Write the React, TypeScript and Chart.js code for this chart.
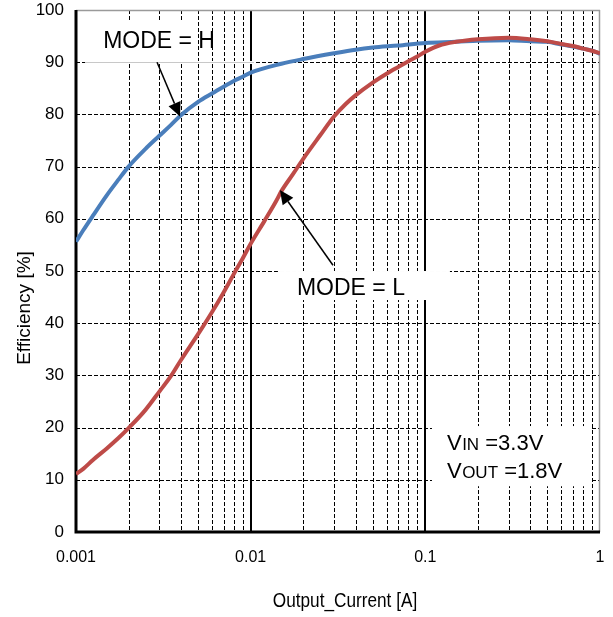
import React, { useEffect, useRef } from "react";
import { Chart, registerables } from "chart.js";

Chart.register(...registerables);

// ---- data ----
const currentH = [0.001, 0.0011, 0.00125, 0.0015, 0.00175, 0.002, 0.0025, 0.003, 0.0035, 0.004, 0.005, 0.006, 0.007, 0.008, 0.009, 0.01, 0.015, 0.02, 0.03, 0.04, 0.05, 0.07, 0.1, 0.15, 0.2, 0.3, 0.4, 0.5, 0.6, 0.7, 0.8, 0.9, 1];
const effH = [55.6, 57.8, 60.6, 64.5, 67.5, 70.0, 73.4, 75.9, 78.0, 79.9, 82.4, 84.0, 85.3, 86.4, 87.2, 88.0, 89.7, 90.6, 91.7, 92.4, 92.8, 93.2, 93.7, 93.9, 94.1, 94.2, 94.0, 93.9, 93.4, 93.0, 92.6, 92.2, 91.6];

const currentL = [0.001, 0.0011, 0.00125, 0.0015, 0.00175, 0.002, 0.0025, 0.003, 0.0035, 0.004, 0.005, 0.006, 0.007, 0.008, 0.009, 0.01, 0.012, 0.014, 0.015, 0.0175, 0.02, 0.025, 0.03, 0.035, 0.04, 0.05, 0.06, 0.07, 0.08, 0.09, 0.1, 0.12, 0.15, 0.2, 0.3, 0.4, 0.5, 0.6, 0.7, 0.8, 0.9, 1];
const effL = [11.1, 12.1, 13.8, 16.0, 18.0, 19.9, 23.4, 26.9, 29.9, 33.0, 37.9, 42.1, 45.9, 49.4, 52.4, 55.2, 59.6, 63.4, 65.3, 68.6, 71.5, 76.0, 79.6, 82.0, 83.7, 86.1, 87.8, 89.1, 90.2, 91.1, 92.0, 93.2, 93.9, 94.4, 94.7, 94.4, 94.0, 93.5, 93.1, 92.6, 92.2, 91.7];

const xTickValues = [0.001, 0.01, 0.1, 1];
const xTickLabels = ["0.001", "0.01", "0.1", "1"];
const yTickValues = [0, 10, 20, 30, 40, 50, 60, 70, 80, 90, 100];
const minorMultipliers = [2, 3, 4, 5, 6, 7, 8, 9];
const decades = [0.001, 0.01, 0.1];

const xTitle = "Output_Current [A]";
const yTitle = "Efficiency [%]";
const labelModeH = "MODE = H";
const labelModeL = "MODE = L";

// annotation anchors in data space
const modeHText = { x: 0.00143, y: 92.7 };
const modeHArrow = { x1: 0.00291, y1: 90.0, x2: 0.00394, y2: 79.6 };
const modeLText = { x: 0.0184, y: 45.4 };
const modeLArrow = { x1: 0.0296, y1: 51.1, x2: 0.0147, y2: 65.5 };
const condText = { x: 0.133, y1: 15.7, y2: 10.3 };

const FONT = "'Liberation Sans', Arial, sans-serif";

function drawArrow(ctx: CanvasRenderingContext2D, x1: number, y1: number, x2: number, y2: number) {
  const ang = Math.atan2(y2 - y1, x2 - x1);
  const headLen = 14;
  const headW = 6.5;
  const bx = x2 - headLen * Math.cos(ang);
  const by = y2 - headLen * Math.sin(ang);
  ctx.save();
  ctx.strokeStyle = "#000";
  ctx.fillStyle = "#000";
  ctx.lineWidth = 1.5;
  ctx.beginPath();
  ctx.moveTo(x1, y1);
  ctx.lineTo(bx, by);
  ctx.stroke();
  ctx.beginPath();
  ctx.moveTo(x2, y2);
  ctx.lineTo(bx + headW * Math.sin(ang), by - headW * Math.cos(ang));
  ctx.lineTo(bx - headW * Math.sin(ang), by + headW * Math.cos(ang));
  ctx.closePath();
  ctx.fill();
  ctx.restore();
}

const gridPlugin = {
  id: "customGrid",
  beforeDatasetsDraw(chart: any) {
    const { ctx, chartArea, scales } = chart;
    const { left, right, top, bottom } = chartArea;
    const xs = scales.x;
    const ys = scales.y;
    ctx.save();
    ctx.fillStyle = "#fff";
    ctx.fillRect(left, top, right - left, bottom - top);
    ctx.strokeStyle = "#000";
    ctx.lineWidth = 1;
    ctx.setLineDash([4, 2]);
    yTickValues.forEach((v) => {
      if (v <= 0 || v >= 100) return;
      const py = Math.round(ys.getPixelForValue(v)) + 0.5;
      ctx.beginPath();
      ctx.moveTo(left, py);
      ctx.lineTo(right, py);
      ctx.stroke();
    });
    decades.forEach((d) => {
      minorMultipliers.forEach((m) => {
        const px = Math.round(xs.getPixelForValue(d * m)) + 0.5;
        ctx.beginPath();
        ctx.moveTo(px, top);
        ctx.lineTo(px, bottom);
        ctx.stroke();
      });
    });
    ctx.setLineDash([]);
    ctx.lineWidth = 2;
    [0.01, 0.1].forEach((d) => {
      const px = Math.round(xs.getPixelForValue(d));
      ctx.beginPath();
      ctx.moveTo(px, top);
      ctx.lineTo(px, bottom);
      ctx.stroke();
    });
    ctx.strokeStyle = "#9a9a9a";
    ctx.lineWidth = 1.5;
    ctx.beginPath();
    ctx.moveTo(left, top + 0.5);
    ctx.lineTo(right, top + 0.5);
    ctx.moveTo(right - 0.5, top);
    ctx.lineTo(right - 0.5, bottom);
    ctx.stroke();

    // white text boxes covering grid
    ctx.fillStyle = "#fff";
    const hx = xs.getPixelForValue(modeHText.x);
    const hy = ys.getPixelForValue(modeHText.y);
    ctx.fillRect(left + 9, hy - 28, hx + 93 - (left + 9), 41);
    const y90 = Math.round(ys.getPixelForValue(90)) + 0.5;
    ctx.fillRect(left + 9, y90 - 1.5, 170, 3);
    ctx.strokeStyle = "#c8c8c8";
    ctx.lineWidth = 1;
    ctx.beginPath();
    ctx.moveTo(left + 9, y90);
    ctx.lineTo(left + 178, y90);
    ctx.stroke();

    const lx = xs.getPixelForValue(modeLText.x);
    const ly = ys.getPixelForValue(modeLText.y);
    ctx.fillRect(lx - 19, ly - 24, 172, 29);

    const cx = xs.getPixelForValue(condText.x);
    const cy1 = ys.getPixelForValue(condText.y1);
    const cy2 = ys.getPixelForValue(condText.y2);
    ctx.fillRect(cx - 15, cy1 - 24, 159, cy2 - cy1 + 32);

    ctx.strokeStyle = "#000";
    ctx.lineWidth = 3;
    ctx.beginPath();
    ctx.moveTo(left, top);
    ctx.lineTo(left, bottom);
    ctx.lineTo(right, bottom);
    ctx.stroke();
    ctx.restore();
  },
  afterDatasetsDraw(chart: any) {
    const { ctx, chartArea, scales } = chart;
    const xs = scales.x;
    const ys = scales.y;
    ctx.save();
    drawArrow(ctx,
      xs.getPixelForValue(modeHArrow.x1), ys.getPixelForValue(modeHArrow.y1),
      xs.getPixelForValue(modeHArrow.x2), ys.getPixelForValue(modeHArrow.y2));
    drawArrow(ctx,
      xs.getPixelForValue(modeLArrow.x1), ys.getPixelForValue(modeLArrow.y1),
      xs.getPixelForValue(modeLArrow.x2), ys.getPixelForValue(modeLArrow.y2));

    ctx.fillStyle = "#000";
    ctx.textBaseline = "alphabetic";
    ctx.textAlign = "left";
    ctx.font = `23px ${FONT}`;
    ctx.fillText(labelModeH, xs.getPixelForValue(modeHText.x), ys.getPixelForValue(modeHText.y));
    ctx.fillText(labelModeL, xs.getPixelForValue(modeLText.x), ys.getPixelForValue(modeLText.y));

    const cx = xs.getPixelForValue(condText.x);
    const drawCond = (sub: string, rest: string, baseY: number) => {
      let px = cx;
      ctx.font = `22px ${FONT}`;
      ctx.fillText("V", px, baseY);
      px += ctx.measureText("V").width + 0.5;
      ctx.font = `17px ${FONT}`;
      ctx.fillText(sub, px, baseY);
      px += ctx.measureText(sub).width;
      ctx.font = `22px ${FONT}`;
      ctx.fillText(rest, px, baseY);
    };
    drawCond("IN", " =3.3V", ys.getPixelForValue(condText.y1));
    drawCond("OUT", " =1.8V", ys.getPixelForValue(condText.y2));

    ctx.save();
    ctx.translate((chartArea.left + chartArea.right) / 2 + 7, 607);
    ctx.scale(0.86, 1);
    ctx.font = `20px ${FONT}`;
    ctx.textAlign = "center";
    ctx.fillText(xTitle, 0, 0);
    ctx.restore();
    ctx.save();
    ctx.translate(30, (chartArea.top + chartArea.bottom) / 2 + 37);
    ctx.rotate(-Math.PI / 2);
    ctx.font = `19px ${FONT}`;
    ctx.textAlign = "center";
    ctx.fillText(yTitle, 0, 0);
    ctx.restore();
    ctx.restore();
  },
};

export default function App() {
  const ref = useRef<HTMLCanvasElement>(null);
  useEffect(() => {
    const canvas = ref.current;
    if (!canvas) return;
    const chart = new Chart(canvas, {
      type: "line",
      data: {
        datasets: [
          {
            label: labelModeL,
            data: currentL.map((c, i) => ({ x: c, y: effL[i] })),
            borderColor: "#be4b48",
            borderWidth: 4,
            pointRadius: 0,
            cubicInterpolationMode: "monotone",
            fill: false,
          },
          {
            label: labelModeH,
            data: currentH.map((c, i) => ({ x: c, y: effH[i] })),
            borderColor: "#4a7ebb",
            borderWidth: 4,
            pointRadius: 0,
            cubicInterpolationMode: "monotone",
            fill: false,
          },
        ],
      },
      options: {
        responsive: false,
        animation: false,
        devicePixelRatio: 1,
        layout: { padding: { top: 10, right: 13, left: 0, bottom: 0 } },
        plugins: {
          legend: { display: false },
          tooltip: { enabled: false },
          title: { display: false },
        },
        scales: {
          x: {
            type: "logarithmic",
            min: 0.001,
            max: 1,
            grid: { display: false, drawTicks: false },
            border: { display: false },
            afterBuildTicks: (s: any) => {
              s.ticks = xTickValues.map((v) => ({ value: v }));
            },
            afterFit: (s: any) => {
              s.height = 85;
              s.paddingLeft = 0;
              s.paddingRight = 0;
            },
            ticks: {
              autoSkip: false,
              maxRotation: 0,
              minRotation: 0,
              padding: 16,
              color: "#000",
              font: { family: FONT, size: 16 },
              callback: (_v: any, i: number) => xTickLabels[i],
            },
          },
          y: {
            type: "linear",
            min: 0,
            max: 100,
            grid: { display: false, drawTicks: false },
            border: { display: false },
            afterBuildTicks: (s: any) => {
              s.ticks = yTickValues.map((v) => ({ value: v }));
            },
            afterFit: (s: any) => {
              s.width = 76;
              s.paddingTop = 0;
              s.paddingBottom = 0;
            },
            ticks: {
              padding: 12,
              color: "#000",
              font: { family: FONT, size: 17 },
            },
          },
        },
      } as any,
      plugins: [gridPlugin],
    });
    return () => chart.destroy();
  }, []);
  return (
    <div style={{ position: "fixed", left: 0, top: 0, width: 613, height: 617, background: "#fff" }}>
      <canvas ref={ref} width={613} height={617} style={{ width: 613, height: 617, display: "block" }} />
    </div>
  );
}
